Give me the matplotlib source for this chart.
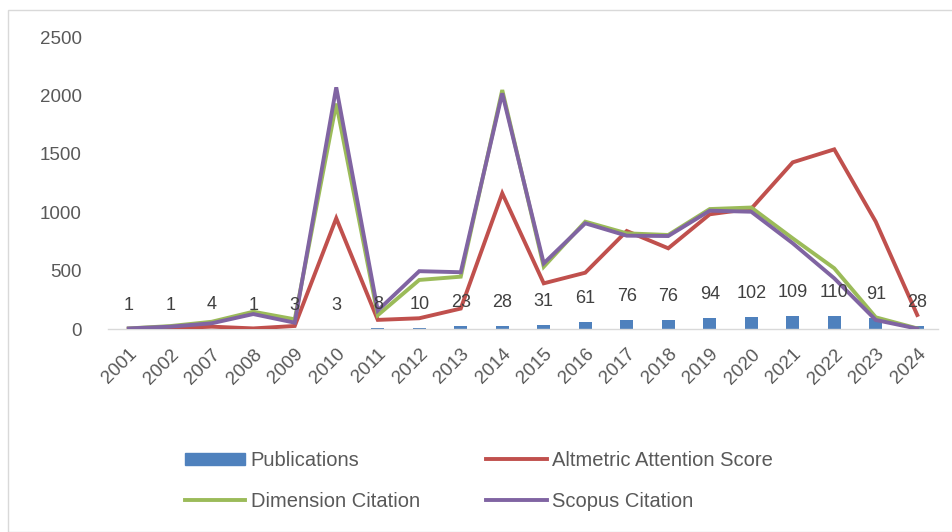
import numpy as np
import matplotlib
matplotlib.use('Agg')
import matplotlib.pyplot as plt
from matplotlib.patches import Rectangle
from matplotlib.lines import Line2D

plt.rcParams['font.family'] = ['Liberation Sans', 'DejaVu Sans']

years = ['2001', '2002', '2007', '2008', '2009', '2010', '2011', '2012', '2013', '2014',
         '2015', '2016', '2017', '2018', '2019', '2020', '2021', '2022', '2023', '2024']
publications = [1, 1, 4, 1, 3, 3, 8, 10, 23, 28, 31, 61, 76, 76, 94, 102, 109, 110, 91, 28]
altmetric = [0, 5, 20, 5, 26, 948, 78, 92, 175, 1162, 391, 482, 839, 691, 982, 1030, 1427, 1538, 919, 120]
dimension = [5, 25, 62, 148, 83, 1930, 118, 420, 448, 2046, 533, 919, 819, 805, 1027, 1040, 776, 520, 100, 5]
scopus = [5, 20, 49, 128, 54, 2069, 158, 495, 486, 2018, 562, 905, 799, 796, 1013, 1004, 734, 434, 77, 3]

c_bar = '#4F81BD'
c_alt = '#C0504D'
c_dim = '#9BBB59'
c_sco = '#8064A2'
txt = '#595959'

W, H = 953, 532
fig = plt.figure(figsize=(W / 100, H / 100), dpi=100)

# light chart-area frame
fig.patches.append(Rectangle((8 / W, 0), 1, 1 - 10 / H, transform=fig.transFigure,
                             fill=False, edgecolor='#D9D9D9', linewidth=1))

ax = fig.add_axes([108 / W, (H - 329) / H, 830 / W, 292 / H])
x = np.arange(len(years))

ax.bar(x, publications, width=0.31, color=c_bar, zorder=2)
ax.plot(x, altmetric, color=c_alt, lw=2.8, zorder=3, solid_joinstyle='miter')
ax.plot(x, dimension, color=c_dim, lw=2.8, zorder=4, solid_joinstyle='miter')
ax.plot(x, scopus, color=c_sco, lw=2.8, zorder=5, solid_joinstyle='miter')

for xi, v in zip(x, publications):
    ax.annotate(str(v), (xi, v), xytext=(0, 17), textcoords='offset points',
                ha='center', va='center', fontsize=13, color='#404040', zorder=6)

ax.set_xlim(-0.5, len(years) - 0.5)
ax.set_ylim(0, 2500)
ax.set_yticks([0, 500, 1000, 1500, 2000, 2500])
ax.set_xticks(x)
ax.set_xticklabels(years, rotation=45, ha='right', rotation_mode='anchor')
ax.tick_params(axis='both', length=0, labelsize=13.5, labelcolor=txt)
ax.tick_params(axis='y', pad=19)
ax.tick_params(axis='x', pad=12)
for s in ['top', 'right', 'left']:
    ax.spines[s].set_visible(False)
ax.spines['bottom'].set_color('#D9D9D9')
ax.spines['bottom'].set_linewidth(1)

# legend laid out row by row: two entries per row
handles = [
    Rectangle((0, 0), 1, 1, color=c_bar),
    Line2D([], [], color=c_dim, lw=2.8),
    Line2D([], [], color=c_alt, lw=2.8),
    Line2D([], [], color=c_sco, lw=2.8),
]
labels = ['Publications', 'Dimension Citation', 'Altmetric Attention Score', 'Scopus Citation']
fig.legend(handles, labels, ncol=2, loc='upper left',
           bbox_to_anchor=(175 / W, 1 - 441 / H), frameon=False,
           fontsize=14.5, labelcolor=txt, handlelength=3.0, handleheight=0.6,
           handletextpad=0.25, columnspacing=3.3, labelspacing=1.1, borderpad=0)

fig.savefig('out.png', dpi=100)
